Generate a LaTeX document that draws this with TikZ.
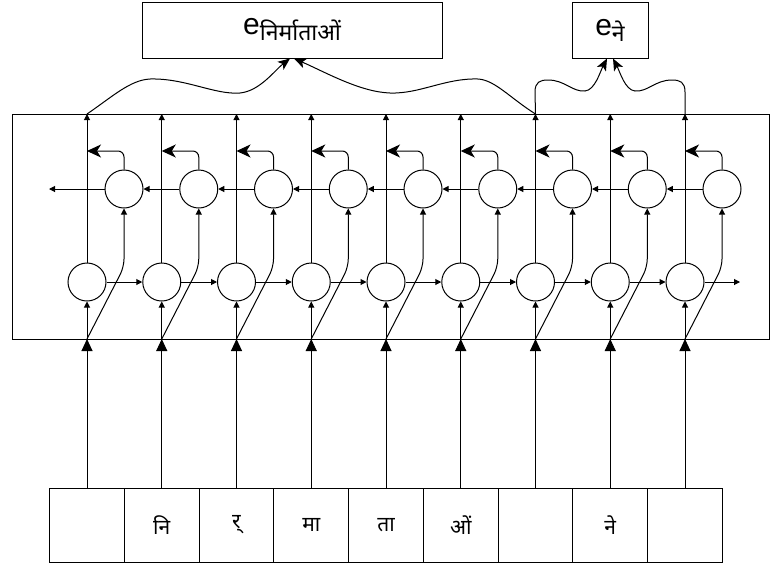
\documentclass[tikz,border=0pt]{standalone}
\usepackage{fontspec}
\setmainfont{Liberation Sans}
\newfontfamily\dev[Script=Devanagari]{Noto Sans}
\usetikzlibrary{arrows.meta}
\begin{document}
\begin{tikzpicture}[x=1pt,y=-1pt,line width=1pt,
  cell/.style={circle,draw,minimum size=38pt,inner sep=0pt},
  inbox/.style={draw,minimum width=74.75pt,minimum height=74pt,inner sep=0pt,font=\dev\fontsize{21}{21}\selectfont},
  outbox/.style={draw,minimum height=56pt,inner sep=0pt},
  sa/.style={-{Triangle[length=6pt,width=6pt]}},
  ba/.style={-{Triangle[length=12pt,width=11pt]}},
  la/.style={-{Stealth[length=14pt,width=13pt,inset=4pt]}},
  oa/.style={-{Stealth[length=12pt,width=10pt,inset=3pt]}}]
\useasboundingbox (0,0) rectangle (770,563);
% encoder box
\node[draw,anchor=north west,minimum width=756.5pt,minimum height=225pt,inner sep=0pt] (enc) at (12,114) {};
% output boxes
\node[outbox,minimum width=300pt] (t1) at (292,30)
  {{\fontsize{30}{30}\selectfont e}\raisebox{-6pt}{\dev\fontsize{23}{23}\selectfont निर्माताओं}};
\node[outbox,minimum width=76pt] (t2) at (610,30)
  {{\fontsize{30}{30}\selectfont e}\raisebox{-6pt}{\dev\fontsize{23}{23}\selectfont ने}};
% columns
\foreach \k/\lab in {1/{},2/नि,3/र्,4/मा,5/ता,6/ओं,7/{},8/ने,9/{}} {
  \pgfmathsetmacro{\cx}{87+74.75*(\k-1)}
  \pgfmathsetmacro{\bx}{\cx+37}
  \node[inbox] (i\k) at (\cx,525) {\lab};
  \node[cell] (f\k) at (\cx,282) {};
  \node[cell] (b\k) at (\bx,189) {};
  \coordinate (bot\k) at (\cx,339);
  \coordinate (top\k) at (\cx,114);
  \coordinate (dg\k) at (\bx,267);
  \coordinate (m\k) at (\cx,151);
}
\coordinate (fend) at (740,282);
\coordinate (bend) at (49,189);
\foreach \k in {1,...,9} {
  \draw[ba] (i\k) -- (bot\k);
  \draw[sa] (bot\k) -- (f\k);
  \draw[sa] (f\k) -- (top\k);
  \draw[sa,rounded corners=8pt] (bot\k) -- (dg\k) -- (b\k);
  \draw[la,rounded corners=6pt] (b\k.north) |- (m\k);
}
\foreach \k [evaluate=\k as \n using int(\k+1)] in {1,...,8} {
  \draw[sa] (f\k) -- (f\n);
  \draw[sa] (b\n) -- (b\k);
}
\draw[sa] (f9) -- (fend);
\draw[sa] (b1) -- (bend);
% output connectors
\draw[oa] (top1) .. controls (112,97) and (130,80) .. (150,79)
  .. controls (185,78) and (215,95) .. (240,93)
  .. controls (260,91) and (275,70) .. ([xshift=-2pt]t1.south);
\draw[oa] (top7) .. controls (510,98) and (495,80) .. (478,79)
  .. controls (445,78) and (420,94) .. (390,93)
  .. controls (360,92) and (325,72) .. ([xshift=2pt]t1.south);
\draw[oa] (top7) -- (535,92) .. controls (535,82) and (540,80) .. (548,80)
  .. controls (565,80) and (572,92) .. (585,91)
  .. controls (595,90) and (600,72) .. ([xshift=-3pt]t2.south);
\draw[oa] (top9) -- (685,92) .. controls (685,82) and (680,80) .. (672,80)
  .. controls (655,80) and (648,92) .. (635,91)
  .. controls (625,90) and (620,72) .. ([xshift=3pt]t2.south);
\end{tikzpicture}
\end{document}
